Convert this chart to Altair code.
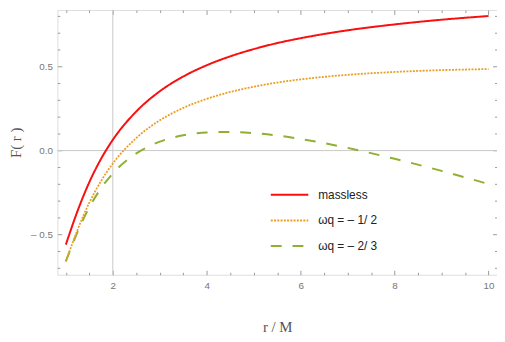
import altair as alt
import pandas as pd

r_vals = [1, 1.25, 1.5, 1.75, 2, 2.5, 3, 3.5, 4, 4.5, 5, 5.5, 6, 7, 8, 9, 10]
massless = [-0.560, -0.359, -0.188, -0.049, 0.064, 0.233, 0.353, 0.441, 0.508,
            0.561, 0.604, 0.640, 0.669, 0.716, 0.751, 0.779, 0.801]
wq_half = [-0.660, -0.471, -0.310, -0.181, -0.077, 0.075, 0.180, 0.254, 0.308,
           0.349, 0.380, 0.405, 0.424, 0.451, 0.468, 0.479, 0.485]
wq_two_thirds = [-0.660, -0.484, -0.338, -0.224, -0.136, -0.017, 0.053, 0.091, 0.108,
                 0.111, 0.104, 0.090, 0.069, 0.016, -0.049, -0.121, -0.199]

series_names = ["massless", "ωq = – 1/ 2", "ωq = – 2/ 3"]
series_colors = ["#f81010", "#eb9d24", "#8fb032"]
series_dashes = [[1, 0], [2, 1.3], [11, 11]]

x_ticks = [1 + 0.5 * i for i in range(19)]
y_ticks = [round(-0.7 + 0.1 * i, 1) for i in range(16)]
x_domain = [0.82, 10.18]
y_domain = [-0.739, 0.837]
axis_x = [2]
axis_y = [0]

rows = []
for name, vals in zip(series_names, [massless, wq_half, wq_two_thirds]):
    for rv, fv in zip(r_vals, vals):
        rows.append({"r": rv, "F": fv, "series": name})
df = pd.DataFrame(rows)

W, H = 445, 268
x_scale = alt.Scale(domain=x_domain, nice=False, zero=False)
y_scale = alt.Scale(domain=y_domain, nice=False, zero=False)
LX, LY = 215, 167
color = alt.Color("series:N", sort=series_names,
                  scale=alt.Scale(domain=series_names, range=series_colors),
                  legend=alt.Legend(title=None, orient="none", legendX=LX, legendY=LY,
                                    symbolType="stroke", symbolSize=1444,
                                    symbolStrokeWidth=2, labelFontSize=12,
                                    labelFont="Liberation Sans", labelColor="#222",
                                    labelOffset=9, rowPadding=0, padding=0))
dash = alt.StrokeDash("series:N", sort=series_names,
                      scale=alt.Scale(domain=series_names, range=series_dashes),
                      legend=alt.Legend(title=None, orient="none", legendX=LX, legendY=LY))

x_tick_size = {"condition": {"test": "datum.value % 2 === 0", "value": 4.5}, "value": 2.5}
y_tick_size = {"condition": {"test": "abs(round(datum.value * 10)) % 5 === 0", "value": 4.5}, "value": 2.5}

label_ax_x = alt.Axis(values=[2, 4, 6, 8, 10], ticks=False, domain=False, grid=False,
                      labelFont="Liberation Sans", labelFontSize=10, labelColor="#777",
                      labelPadding=6, title="r / M", titleFont="Liberation Serif",
                      titleFontSize=15, titleFontWeight="normal", titleColor="#555",
                      titlePadding=29)
label_ax_y = alt.Axis(values=[-0.5, 0, 0.5], ticks=False, domain=False, grid=False,
                      labelExpr="datum.value < 0 ? '–  ' + format(abs(datum.value), '.1f') : format(datum.value, '.1f')",
                      labelFont="Liberation Sans", labelFontSize=10, labelColor="#777",
                      labelPadding=5, title="F( r )", titleFont="Liberation Serif",
                      titleFontSize=15, titleFontWeight="normal", titleColor="#555",
                      titlePadding=4)


def tick_axis(orient, vals, size, offset):
    return alt.Axis(orient=orient, values=vals, labels=False, domain=False, grid=False,
                    ticks=True, tickSize=size, tickColor="#999", tickWidth=1,
                    offset=offset, title=None)


base = alt.Chart(df)


def series_layer(name, xa, ya, sw):
    return base.transform_filter(alt.datum.series == name).mark_line(
        strokeWidth=sw, interpolate="monotone").encode(
        x=alt.X("r:Q", scale=x_scale, axis=xa),
        y=alt.Y("F:Q", scale=y_scale, axis=ya),
        color=color, strokeDash=dash)


l1 = series_layer(series_names[0], label_ax_x, label_ax_y, 2)
l2 = series_layer(series_names[1], tick_axis("top", x_ticks, x_tick_size, -H),
                  tick_axis("right", y_ticks, y_tick_size, -W), 1.8)
l3 = series_layer(series_names[2], tick_axis("bottom", x_ticks, x_tick_size, -H),
                  tick_axis("left", y_ticks, y_tick_size, -W), 2)

vrule = alt.Chart(pd.DataFrame({"x": axis_x})).mark_rule(color="#c8c8c8", strokeWidth=1).encode(
    x=alt.X("x:Q", scale=x_scale, axis=None))
hrule = alt.Chart(pd.DataFrame({"y": axis_y})).mark_rule(color="#c8c8c8", strokeWidth=1).encode(
    y=alt.Y("y:Q", scale=y_scale, axis=None))

chart = alt.layer(vrule, hrule, l3, l2, l1).resolve_axis(x="independent", y="independent").properties(
    width=W, height=H, autosize=alt.AutoSizeParams(type="none"),
    padding={"left": 50, "top": 0, "right": 0, "bottom": 58},
).configure_view(stroke="#999", strokeWidth=1).configure(background="white")

chart.save("out.html", embed_options={"renderer": "svg", "actions": False})
